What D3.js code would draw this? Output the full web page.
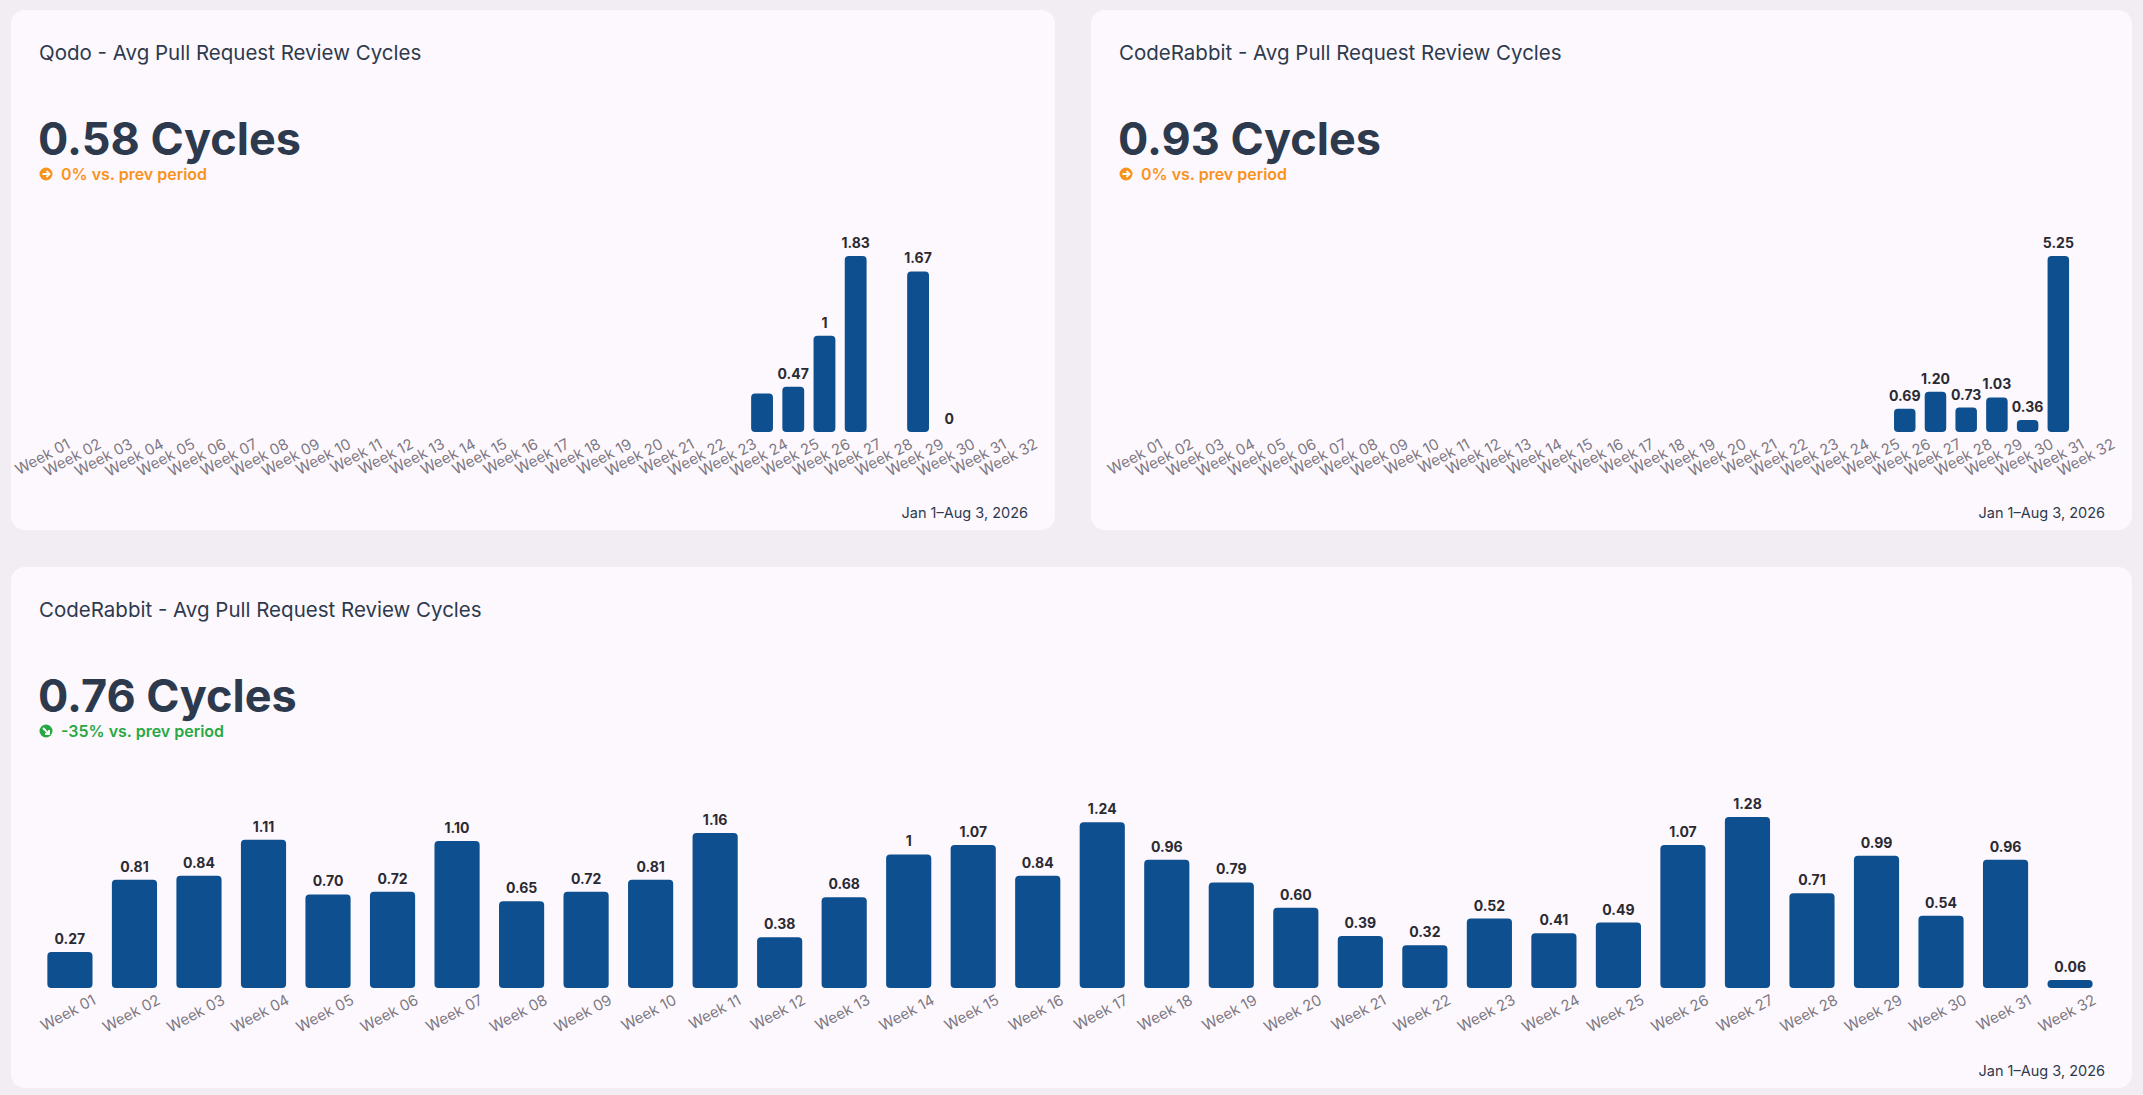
<!DOCTYPE html>
<html>
<head>
<meta charset="utf-8">
<script src="https://cdn.jsdelivr.net/npm/d3@7"></script>
<style>
  body { margin: 0; background: #f2edf3; font-family: Inter, "Noto Sans", sans-serif; }
</style>
</head>
<body>
<div class="canvas"></div>
<script>
// data
const weeks = d3.range(1, 33).map(i => 'Week ' + String(i).padStart(2, '0'));

const qodoValues = [null,null,null,null,null,null,null,null,null,null,null,null,null,null,null,null,
  null,null,null,null,null,null,null,0.40,0.47,1,1.83,null,1.67,0,null,null];
const qodoLabels = ['','','','','','','','','','','','','','','','','','','','','','','','','0.47','1','1.83','','1.67','0','',''];

const crTopValues = [null,null,null,null,null,null,null,null,null,null,null,null,null,null,null,null,
  null,null,null,null,null,null,null,null,null,0.69,1.20,0.73,1.03,0.36,5.25,null];
const crTopLabels = crTopValues.map(v => v == null ? '' : v.toFixed(2));

const crValues = [0.27,0.81,0.84,1.11,0.70,0.72,1.10,0.65,0.72,0.81,1.16,0.38,0.68,1,1.07,0.84,
  1.24,0.96,0.79,0.60,0.39,0.32,0.52,0.41,0.49,1.07,1.28,0.71,0.99,0.54,0.96,0.06];
const crLabels = crValues.map(v => v === 1 ? '1' : v.toFixed(2));

const panels = [
  { title: 'Qodo - Avg Pull Request Review Cycles', big: '0.58 Cycles', delta: '0% vs. prev period', deltaColor: '#f7931e', up: null,
    x: 11, y: 10, w: 1044, h: 520, values: qodoValues, labels: qodoLabels, range: [24, 1032], base: 432, top: 256, max: 1.83, pad: 0.3 },
  { title: 'CodeRabbit - Avg Pull Request Review Cycles', big: '0.93 Cycles', delta: '0% vs. prev period', deltaColor: '#f7931e', up: null,
    x: 1091, y: 10, w: 1041, h: 520, values: crTopValues, labels: crTopLabels, range: [1117, 2109], base: 432, top: 256, max: 5.25, pad: 0.3 },
  { title: 'CodeRabbit - Avg Pull Request Review Cycles', big: '0.76 Cycles', delta: '-35% vs. prev period', deltaColor: '#27a844', up: false,
    x: 11, y: 567, w: 2121, h: 521, values: crValues, labels: crLabels, range: [28, 2112], base: 988, top: 817, max: 1.28, pad: 0.3 }
];

const svg = d3.select('.canvas').append('svg')
  .attr('width', 2143)
  .attr('height', 1095)

panels.forEach(p => {
  const g = svg.append('g');
  g.append('rect')
    .attr('x', p.x).attr('y', p.y).attr('width', p.w).attr('height', p.h)
    .attr('rx', 14).attr('fill', '#fdf8fd')

  g.append('text').attr('x', p.x + 28).attr('y', p.y + 50)
    .attr('font-size', 20.5).attr('fill', '#2d3a4e').text(p.title)
  g.append('text').attr('x', p.x + 27).attr('y', p.y + 145)
    .attr('font-size', 45).attr('font-weight', 700).attr('fill', '#2d3a4e').text(p.big)

  // delta badge
  const cy = p.y + 164;
  g.append('circle').attr('cx', p.x + 35).attr('cy', cy).attr('r', 6.5).attr('fill', p.deltaColor)
  g.append('path')
    .attr('d', p.up === false
      ? `M${p.x+32},${cy-3} L${p.x+38},${cy+3} M${p.x+38},${cy-1} L${p.x+38},${cy+3} L${p.x+34},${cy+3}`
      : `M${p.x+31.5},${cy} L${p.x+38},${cy} M${p.x+35.5},${cy-3} L${p.x+38.5},${cy} L${p.x+35.5},${cy+3}`)
    .attr('stroke', '#fff').attr('stroke-width', 1.8).attr('fill', 'none')
  g.append('text').attr('x', p.x + 50).attr('y', cy + 6)
    .attr('font-size', 16).attr('font-weight', 600).attr('fill', p.deltaColor).text(p.delta)

  // scales
  const x = d3.scaleBand().domain(weeks).range(p.range).padding(p.pad);
  const y = d3.scaleLinear().domain([0, p.max]).range([p.base, p.top]);

  const data = weeks.map((w, i) => ({ week: w, value: p.values[i], label: p.labels[i] }));

  g.selectAll('rect.bar')
    .data(data.filter(d => d.value != null && d.value > 0))
    .enter().append('rect')
      .attr('class', 'bar')
      .attr('x', d => x(d.week))
      .attr('width', x.bandwidth())
      .attr('y', d => y(d.value))
      .attr('height', d => Math.max(y(0) - y(d.value), 4))
      .attr('rx', 4)
      .attr('fill', '#0e4f8f')

  g.selectAll('text.val')
    .data(data.filter(d => d.value != null && d.label !== ''))
    .enter().append('text')
      .attr('class', 'val')
      .attr('x', d => x(d.week) + x.bandwidth() / 2)
      .attr('y', d => y(d.value) - 8)
      .attr('text-anchor', 'middle')
      .attr('font-size', 14).attr('font-weight', 700).attr('fill', '#2a2a33')
      .text(d => d.label)

  // x axis
  const axisG = g.append('g').attr('transform', `translate(0,${p.base + 6})`)
    .call(d3.axisBottom(x).tickSize(0).tickPadding(0))
  axisG.select('.domain').remove();
  axisG.selectAll('text')
    .attr('font-size', 15).attr('font-family', 'Inter, sans-serif').attr('fill', '#7d7884')
    .attr('text-anchor', 'end')
    .attr('dy', '0.7em')
    .attr('transform', 'translate(22,0) rotate(-28)')

  g.append('text').attr('x', p.x + p.w - 27).attr('y', p.y + p.h - 12)
    .attr('text-anchor', 'end').attr('font-size', 14.5).attr('fill', '#2d3a4e').text('Jan 1\u2013Aug 3, 2026')
})
</script>
</body>
</html>
